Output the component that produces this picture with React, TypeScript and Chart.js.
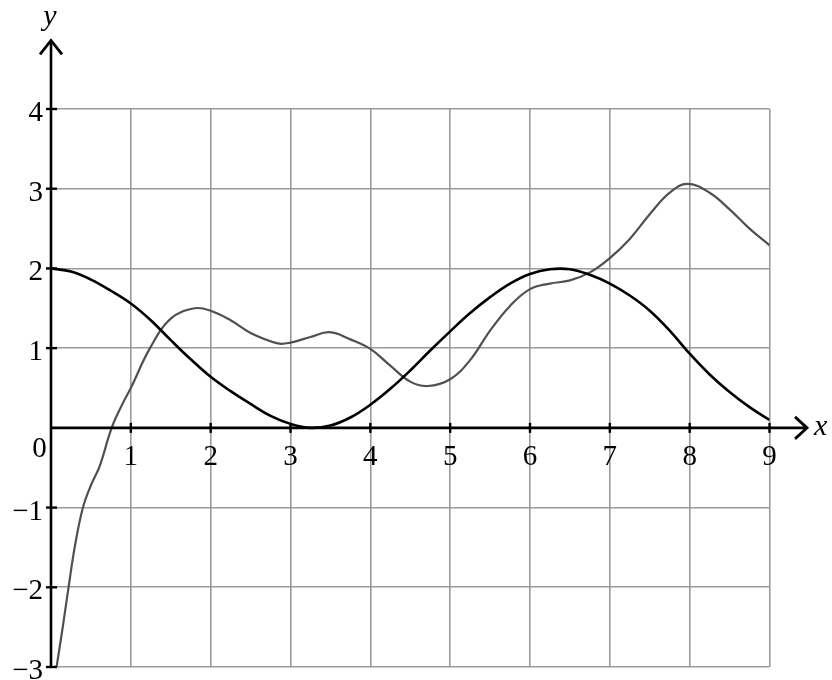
import React, { useEffect, useRef } from "react";
import { Chart, registerables } from "chart.js";

Chart.register(...registerables);

// Black curve
const blackX = [0, 0.25, 0.5, 0.75, 1, 1.25, 1.5, 1.75, 2, 2.25, 2.5, 2.75, 3, 3.25, 3.5, 3.75, 4, 4.25, 4.5, 4.75, 5, 5.25, 5.5, 5.75, 6, 6.25, 6.5, 6.75, 7, 7.25, 7.5, 7.75, 8, 8.25, 8.5, 8.75, 9];
const blackY = [2.0, 1.96, 1.86, 1.72, 1.56, 1.35, 1.1, 0.86, 0.64, 0.46, 0.3, 0.15, 0.05, 0.0, 0.03, 0.13, 0.29, 0.49, 0.72, 0.97, 1.21, 1.44, 1.64, 1.81, 1.93, 1.99, 1.99, 1.92, 1.81, 1.66, 1.47, 1.22, 0.93, 0.67, 0.45, 0.26, 0.1];

// Gray curve
const grayX = [0.07, 0.15, 0.22, 0.3, 0.4, 0.5, 0.61, 0.76, 0.9, 1.0, 1.24, 1.5, 1.8, 2.0, 2.25, 2.5, 2.84, 3.0, 3.25, 3.49, 3.75, 4.0, 4.25, 4.5, 4.72, 5.0, 5.25, 5.5, 5.75, 6.0, 6.25, 6.5, 6.75, 7.0, 7.25, 7.5, 7.75, 7.97, 8.25, 8.5, 8.75, 9.0];
const grayY = [-3.0, -2.48, -2.0, -1.48, -1.0, -0.72, -0.48, 0.0, 0.31, 0.5, 1.0, 1.37, 1.5, 1.47, 1.35, 1.19, 1.06, 1.07, 1.14, 1.2, 1.11, 0.99, 0.78, 0.58, 0.525, 0.61, 0.85, 1.22, 1.53, 1.74, 1.81, 1.85, 1.95, 2.13, 2.37, 2.68, 2.95, 3.06, 2.95, 2.74, 2.5, 2.29];

const xTickValues = [1, 2, 3, 4, 5, 6, 7, 8, 9];
const xTickLabels = ["1", "2", "3", "4", "5", "6", "7", "8", "9"];
const yTickValues = [-3, -2, -1, 1, 2, 3, 4];
const yTickLabels = ["\u22123", "\u22122", "\u22121", "1", "2", "3", "4"];
const originLabel = "0";
const xAxisTitle = "x";
const yAxisTitle = "y";

const FONT = '29px "Liberation Serif", "Times New Roman", serif';
const ITALIC = 'italic 30px "Liberation Serif", "Times New Roman", serif';

const axesPlugin = {
  id: "mathAxes",
  afterDraw(chart: any) {
    const ctx = chart.ctx as CanvasRenderingContext2D;
    const xs = chart.scales.x;
    const ys = chart.scales.y;
    const x0 = xs.getPixelForValue(0);
    const y0 = ys.getPixelForValue(0);
    const yBottom = ys.getPixelForValue(-3);
    const yTop = ys.getPixelForValue(4.86);
    const xEnd = xs.getPixelForValue(9.47);

    ctx.save();
    ctx.strokeStyle = "#000";
    ctx.lineWidth = 2.6;
    ctx.lineCap = "butt";
    ctx.beginPath();
    ctx.moveTo(x0, yBottom + 1);
    ctx.lineTo(x0, yTop);
    ctx.stroke();
    ctx.beginPath();
    ctx.moveTo(x0, y0);
    ctx.lineTo(xEnd, y0);
    ctx.stroke();
    ctx.lineWidth = 2.8;
    ctx.lineJoin = "miter";
    ctx.beginPath();
    ctx.moveTo(x0 - 11, yTop + 14);
    ctx.lineTo(x0, yTop);
    ctx.lineTo(x0 + 11, yTop + 14);
    ctx.stroke();
    ctx.beginPath();
    ctx.moveTo(xEnd - 12, y0 - 11);
    ctx.lineTo(xEnd, y0);
    ctx.lineTo(xEnd - 12, y0 + 11);
    ctx.stroke();

    ctx.lineWidth = 2.4;
    yTickValues.forEach((v) => {
      const py = ys.getPixelForValue(v);
      ctx.beginPath();
      ctx.moveTo(x0 - 5, py);
      ctx.lineTo(x0 + 6, py);
      ctx.stroke();
    });
    xTickValues.forEach((v) => {
      const px = xs.getPixelForValue(v);
      ctx.beginPath();
      ctx.moveTo(px, y0 - 5);
      ctx.lineTo(px, y0 + 5);
      ctx.stroke();
    });

    ctx.fillStyle = "#000";
    ctx.font = FONT;
    ctx.textBaseline = "alphabetic";
    ctx.textAlign = "right";
    yTickValues.forEach((v, i) => {
      const py = ys.getPixelForValue(v);
      ctx.fillText(yTickLabels[i], x0 - 8, py + 12);
    });
    ctx.textAlign = "center";
    xTickValues.forEach((v, i) => {
      const px = xs.getPixelForValue(v);
      ctx.fillText(xTickLabels[i], px, y0 + 37);
    });
    ctx.fillText(originLabel, x0 - 11.5, y0 + 29);

    ctx.font = ITALIC;
    ctx.textAlign = "left";
    ctx.fillText(xAxisTitle, xEnd + 7, y0 + 7);
    ctx.textAlign = "center";
    ctx.fillText(yAxisTitle, x0 - 1, yTop - 15);
    ctx.restore();
  },
};

export default function App() {
  const canvasRef = useRef<HTMLCanvasElement | null>(null);

  useEffect(() => {
    const canvas = canvasRef.current;
    if (!canvas) return;
    const chart = new Chart(canvas, {
      type: "line",
      data: {
        datasets: [
          {
            label: "black",
            data: blackX.map((x, i) => ({ x, y: blackY[i] })),
            borderColor: "#000000",
            borderWidth: 2.6,
            pointRadius: 0,
            tension: 0.4,
            fill: false,
          },
          {
            label: "gray",
            data: grayX.map((x, i) => ({ x, y: grayY[i] })),
            borderColor: "#505050",
            borderWidth: 2.2,
            pointRadius: 0,
            tension: 0.4,
            fill: false,
          },
        ],
      },
      options: {
        animation: false,
        responsive: false,
        devicePixelRatio: 1,
        layout: { padding: { left: 51, right: 62.5, top: 109, bottom: 13 } },
        plugins: { legend: { display: false }, tooltip: { enabled: false } },
        scales: {
          x: {
            type: "linear",
            min: 0,
            max: 9,
            ticks: { display: false, stepSize: 1 },
            grid: { color: "#9a9a9a", lineWidth: 1.6, drawTicks: false },
            border: { display: false },
          },
          y: {
            type: "linear",
            min: -3,
            max: 4,
            ticks: { display: false, stepSize: 1 },
            grid: { color: "#9a9a9a", lineWidth: 1.6, drawTicks: false },
            border: { display: false },
          },
        },
      },
      plugins: [axesPlugin],
    });
    return () => chart.destroy();
  }, []);

  return (
    <div style={{ position: "absolute", left: 0, top: 0, width: 832, height: 680, background: "#fff" }}>
      <canvas ref={canvasRef} width={832} height={680} style={{ display: "block" }} />
    </div>
  );
}
